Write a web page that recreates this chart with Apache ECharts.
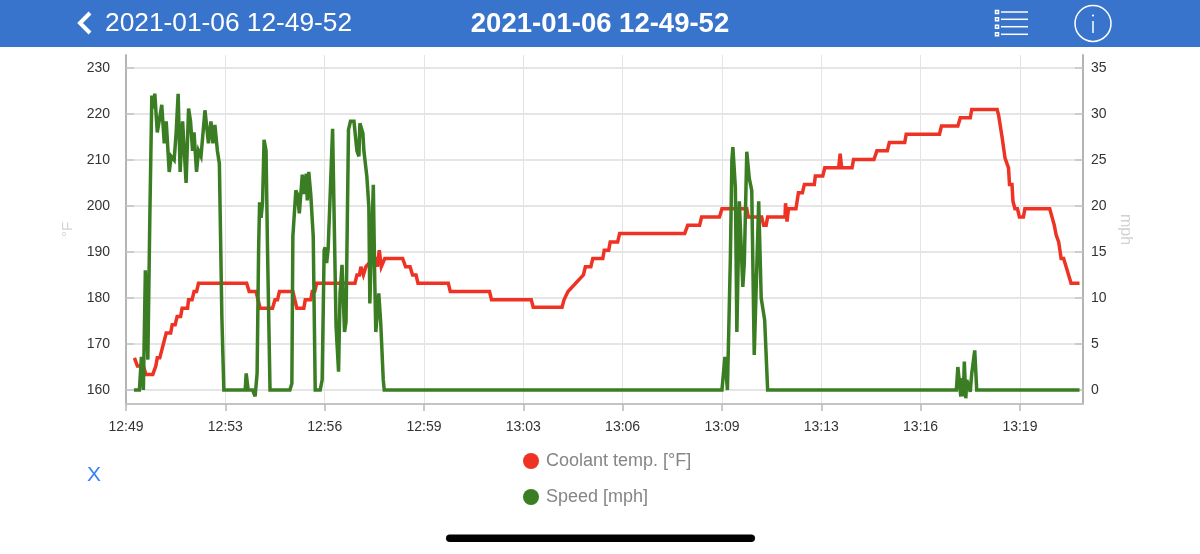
<!DOCTYPE html>
<html><head><meta charset="utf-8">
<style>html,body{margin:0;padding:0;background:#fff}#c{width:1200px;height:554px}</style>
<script src="https://cdn.jsdelivr.net/npm/echarts@6/dist/echarts.min.js"></script>
</head><body><div id="c"></div>
<script>
// [seconds after 12:49:52, °F]
const coolantPoints = [[17,167],[23,165.2],[35,165.2],[40,163.4],[54,163.4],[60,165.2],[63,167],[68,167],[81,172.4],[90,172.4],[93,174.2],[99,174.2],[103,176],[110,176],[113,177.8],[124,177.8],[126,179.6],[133,179.6],[137,181.4],[142,181.4],[146,183.2],[243,183.2],[248,181.4],[262,181.4],[270,177.8],[295,177.8],[300,179.6],[305,179.6],[309,181.4],[336,181.4],[344,177.8],[358,177.8],[361,179.6],[372,179.6],[375,181.4],[380,181.4],[384,183.2],[461,183.2],[465,185],[470,185],[473,186.8],[475,186.8],[478,185],[483,186.8],[498,188.6],[503,188.6],[506,186.8],[510,190.4],[514,186.8],[517,186.8],[521,188.6],[557,188.6],[563,186.8],[572,186.8],[577,185],[584,185],[588,183.2],[649,183.2],[653,181.4],[732,181.4],[736,179.6],[816,179.6],[820,178],[878,178],[882,179.6],[886,179.6],[890,181.4],[921,185],[925,186.8],[936,186.8],[940,188.6],[960,188.6],[963,190.4],[972,190.4],[975,192.2],[990,192.2],[994,194],[1125,194],[1131,195.8],[1155,195.8],[1159,197.6],[1195,197.6],[1200,199.4],[1250,199.4],[1253,197.6],[1280,197.6],[1284,195.8],[1289,195.8],[1292,197.6],[1327,197.6],[1328,200.6],[1331,196.6],[1334,199.4],[1349,199.4],[1354,202.9],[1362,202.9],[1366,204.7],[1386,204.7],[1388,206.5],[1403,206.5],[1407,208.3],[1435,208.3],[1438,211.4],[1441,208.3],[1462,208.3],[1465,210.1],[1506,210.1],[1512,212],[1533,212],[1537,213.8],[1568,213.8],[1571,215.6],[1638,215.6],[1642,217.4],[1675,217.4],[1680,219.2],[1700,219.2],[1703,221],[1754,221],[1757,219.8],[1764,215],[1770,210.4],[1777,208.3],[1779,204.7],[1784,204.7],[1786,201],[1790,199.4],[1795,199.4],[1799,197.6],[1807,197.6],[1810,199.4],[1860,199.4],[1869,195.9],[1873,193.7],[1878,192.2],[1883,188.6],[1888,188.6],[1903,183.2],[1920,183.2]];
// [seconds after 12:49:52, mph]
const speedPoints = [[16,0],[27,0],[31,3.6],[35,0],[39,13],[44,3.3],[48,18.8],[52,32],[55,30.6],[58,32.2],[63,28],[67,29.3],[72,31],[77,26.8],[81,29.2],[87,23.7],[91,25.4],[97,25],[101,28],[105,32.2],[109,23.7],[114,29.2],[121,22.5],[126,30.6],[130,29.2],[134,26],[137,28],[142,23.7],[146,26],[151,25.4],[159,30.4],[166,26.8],[171,29.2],[175,26.8],[179,28.8],[184,26],[188,24.6],[193,8],[197,0],[240,0],[242,1.8],[246,0],[255,0],[260,-0.7],[264,1.8],[267,15.2],[269,20.4],[272,18.7],[275,20.4],[278,27.2],[282,26],[285,15.2],[290,0],[330,0],[334,0.7],[336,16.7],[342,21.7],[345,21.3],[349,19.2],[353,22],[355,23.4],[359,21.3],[363,23.5],[365,20.6],[368,23.7],[372,21.3],[377,16.7],[381,0],[391,0],[395,1.1],[399,15.2],[401,15.5],[404,13.8],[407,15.3],[412,22.5],[416,28.4],[420,28.4],[423,6.9],[428,2],[431,10.5],[435,13.6],[438,13.6],[440,6.3],[443,7.4],[448,28.3],[452,29.2],[459,29.2],[465,26],[469,25.4],[471,29],[477,27.9],[479,26],[483,26],[485,23.2],[489,19.9],[491,9.4],[498,22.3],[501,11.6],[503,6.3],[509,10.5],[513,7.2],[518,1.1],[520,0],[1200,0],[1206,3.6],[1211,0],[1217,14.5],[1220,25],[1222,26.4],[1227,22],[1230,6.3],[1235,20.5],[1242,11.2],[1245,13.8],[1250,25.9],[1253,25.9],[1255,23],[1260,21.7],[1265,3.8],[1274,20.5],[1276,20.5],[1279,10],[1286,7.6],[1292,0],[1672,0],[1675,2.5],[1681,-0.7],[1684,1.3],[1686,-0.7],[1688,3.1],[1691,-0.9],[1693,1.1],[1700,-0.2],[1703,1.8],[1705,1.8],[1709,4.3],[1711,4.3],[1713,0],[1920,0]];
const xTickLabels = ['12:49','12:53','12:56','12:59','13:03','13:06','13:09','13:13','13:16','13:19'];
const tempTicks = [160,170,180,190,200,210,220,230];
const speedTicks = [0,5,10,15,20,25,30,35];
const seriesNames = ['Coolant temp. [°F]','Speed [mph]'];
const title = '2021-01-06 12-49-52';

const font = '"Liberation Sans", Arial, sans-serif';
const RED='#EE3224', GREEN='#3A7D22';
const chart = echarts.init(document.getElementById('c'),null,{renderer:'canvas'});
const yCommon = {
  type:'value', axisLine:{show:true,lineStyle:{color:'#b4b4b4',width:2}},
  axisTick:{show:true,inside:true,length:8,lineStyle:{color:'#c4c4c4',width:1.5}},
  nameLocation:'middle',
  nameTextStyle:{color:'#d2d2d2',fontSize:15,fontFamily:font}
};
chart.setOption({
  animation:false, backgroundColor:'#fff',
  grid:{left:126,right:117,top:55,height:349,containLabel:false},
  xAxis:{type:'value',min:0,max:1927,interval:200,
    axisLine:{show:true,onZero:false,lineStyle:{color:'#c4c4c4',width:2}},
    axisTick:{show:true,length:7,lineStyle:{color:'#b8b8b8',width:1.5}},
    axisLabel:{color:'#333',fontSize:14,fontFamily:font,margin:16,showMaxLabel:false,
      formatter:v=>xTickLabels[Math.round(v/200)]||''},
    splitLine:{show:true,lineStyle:{color:'#e4e4e4',width:1}}},
  yAxis:[
    Object.assign({},yCommon,{position:'left',name:'°F',nameGap:35,nameRotate:90,min:156.96,max:232.83,
      axisLabel:{color:'#333',fontSize:14,fontFamily:font,margin:16,padding:[3,0,0,0],customValues:tempTicks},
      axisTick:Object.assign({},yCommon.axisTick,{customValues:tempTicks}),
      splitLine:{show:true,lineStyle:{color:'#dcdcdc',width:1.5}}}),
    Object.assign({},yCommon,{position:'right',name:'mph',nameGap:34,nameRotate:-90,min:-1.52,max:36.41,
      nameTextStyle:{color:'#d2d2d2',fontSize:16,fontFamily:font},
      axisLabel:{color:'#333',fontSize:14,fontFamily:font,margin:8,padding:[3,0,0,0],customValues:speedTicks},
      axisTick:Object.assign({},yCommon.axisTick,{customValues:speedTicks}),
      splitLine:{show:false}})
  ],
  legend:{orient:'vertical',left:518,top:447,itemGap:18,itemWidth:16,itemHeight:16,icon:'circle',
    selectedMode:false,
    textStyle:{color:'#858585',fontSize:18,fontFamily:font,padding:[0,0,0,2]},
    data:seriesNames},
  series:[
    {name:seriesNames[0],type:'line',yAxisIndex:0,showSymbol:false,symbol:'none',clip:false,
      data:coolantPoints,itemStyle:{color:RED},lineStyle:{color:RED,width:3.5,join:'miter',miterLimit:4}},
    {name:seriesNames[1],type:'line',yAxisIndex:1,showSymbol:false,symbol:'none',clip:false,
      data:speedPoints,itemStyle:{color:GREEN},lineStyle:{color:GREEN,width:3.5,join:'miter',miterLimit:4}}
  ],
  graphic:[
    {type:'rect',shape:{x:0,y:0,width:1200,height:47},style:{fill:'#3874CB'}},
    {type:'polyline',shape:{points:[[90,13],[80,23],[90,33]]},style:{stroke:'#fff',lineWidth:4,fill:null}},
    {type:'text',x:105,y:24,style:{text:title,fill:'#fff',font:'26.3px '+font,textVerticalAlign:'middle'}},
    {type:'text',x:600,y:24,style:{text:title,fill:'#fff',font:'bold 27.5px '+font,textAlign:'center',textVerticalAlign:'middle'}},
    ...[12,19.3,26.7,34.3].flatMap(y=>[
      {type:'rect',shape:{x:995.5,y:y-1.5,width:3,height:3},style:{fill:'#3874CB',stroke:'#fff',lineWidth:1.5}},
      {type:'line',shape:{x1:1001,y1:y,x2:1028,y2:y},style:{stroke:'#fff',lineWidth:1.5}}
    ]),
    {type:'circle',shape:{cx:1093,cy:23.4,r:18},style:{fill:null,stroke:'#fff',lineWidth:1.5}},
    {type:'line',shape:{x1:1093,y1:21,x2:1093,y2:33},style:{stroke:'#fff',lineWidth:1.5}},
    {type:'circle',shape:{cx:1093,cy:15.5,r:1.1},style:{fill:'#fff'}},
    {type:'text',x:94,y:475,style:{text:'X',fill:'#3B82F6',font:'21px '+font,textAlign:'center',textVerticalAlign:'middle'}},
    {type:'rect',shape:{x:446,y:534.5,width:309,height:7.5,r:3.75},style:{fill:'#000'}}
  ]
});
</script></body></html>
